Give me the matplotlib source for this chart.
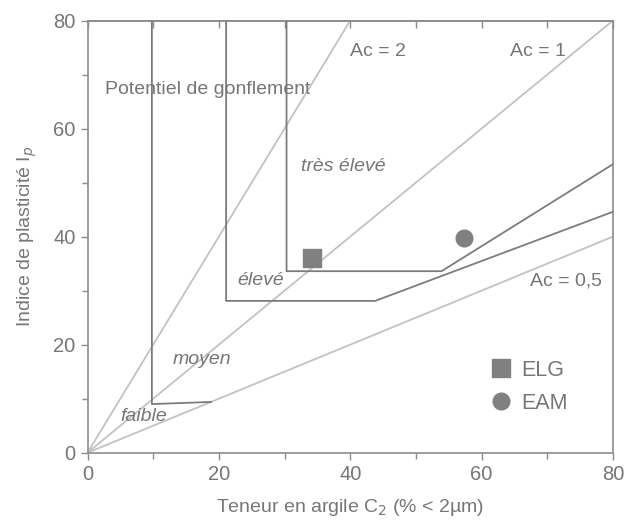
import matplotlib
matplotlib.use("Agg")
import matplotlib.pyplot as plt
from matplotlib.ticker import MultipleLocator, NullFormatter

plt.rcParams["font.family"] = ["Liberation Sans", "DejaVu Sans"]

# activity lines Ip = Ac * C2
activities = [2.0, 1.0, 0.5]
activity_labels = ["Ac = 2", "Ac = 1", "Ac = 0,5"]
activity_label_xy = [(40.0, 74.2), (64.3, 74.2), (67.3, 31.7)]

# swelling-potential class boundaries (C2, Ip)
bound_faible = ([9.8, 9.8, 18.8], [80.0, 9.0, 9.4])
bound_moyen = ([21.1, 21.1, 43.8, 80.0], [80.0, 28.1, 28.1, 44.6])
bound_eleve = ([30.3, 30.3, 53.9, 80.0], [80.0, 33.6, 33.6, 53.4])

class_names = ["faible", "moyen", "élevé", "très élevé"]
class_xy = [(5.0, 6.7), (13.0, 17.2), (22.8, 31.9), (32.5, 52.9)]

# samples
elg_c2, elg_ip = [34.2], [36.0]
eam_c2, eam_ip = [57.3], [39.8]

TXT = "#767676"
SPINE = "#8c8c8c"
LIGHT = "#c2c2c2"
DARK = "#7c7c7c"
MARK = "#808080"

fig = plt.figure(figsize=(6.26, 5.23), dpi=100)
ax = fig.add_axes([0.1398, 0.1344, 0.8394, 0.8264])

for ac in activities:
    ax.plot([0, 80], [0, 80 * ac], color=LIGHT, lw=1.3, zorder=2)
for (x, y), s in zip(activity_label_xy, activity_labels):
    ax.text(x, y, s, color=TXT, fontsize=14, va="center", ha="left")

for xs, ys in (bound_faible, bound_moyen, bound_eleve):
    ax.plot(xs, ys, color=DARK, lw=1.3, zorder=3)

for (x, y), s in zip(class_xy, class_names):
    ax.text(x, y, s, color=TXT, fontsize=14, style="italic",
            va="center", ha="left")

ax.text(2.65, 67.3, "Potentiel de gonflement", color=TXT, fontsize=14,
        va="center", ha="left")

ax.plot(elg_c2, elg_ip, ls="none", marker="s", ms=12.5, color=MARK,
        label="ELG", zorder=5)
ax.plot(eam_c2, eam_ip, ls="none", marker="o", ms=12, color=MARK,
        label="EAM", zorder=5)

leg = ax.legend(loc="upper left", bbox_to_anchor=(0.738, 0.25),
                frameon=False, fontsize=15.5, handlelength=1.0,
                handletextpad=0.45, labelspacing=0.55, borderpad=0.2)
for t in leg.get_texts():
    t.set_color(TXT)

ax.set_xlim(0, 80)
ax.set_ylim(0, 80)
ax.xaxis.set_major_locator(MultipleLocator(20))
ax.xaxis.set_minor_locator(MultipleLocator(10))
ax.yaxis.set_major_locator(MultipleLocator(20))
ax.yaxis.set_minor_locator(MultipleLocator(10))
ax.tick_params(which="both", direction="out", colors=SPINE,
               labelcolor=TXT, labelsize=14.5, width=1.0)
ax.tick_params(which="major", length=5)
ax.tick_params(which="minor", length=4)
for sp in ax.spines.values():
    sp.set_color(SPINE)
    sp.set_linewidth(1.2)

# inward ticks along the top edge
top = ax.secondary_xaxis("top")
top.xaxis.set_major_locator(MultipleLocator(10))
top.xaxis.set_major_formatter(NullFormatter())
top.tick_params(direction="in", length=5, width=1.0, colors=SPINE)
top.spines["top"].set_color(SPINE)
top.spines["top"].set_linewidth(1.2)

ax.set_xlabel("Teneur en argile C$_2$ (% < 2µm)", color=TXT, fontsize=14,
              labelpad=10)
ax.set_ylabel("Indice de plasticité I$_p$", color=TXT, fontsize=14,
              labelpad=10)

fig.savefig("out.png", dpi=100)
